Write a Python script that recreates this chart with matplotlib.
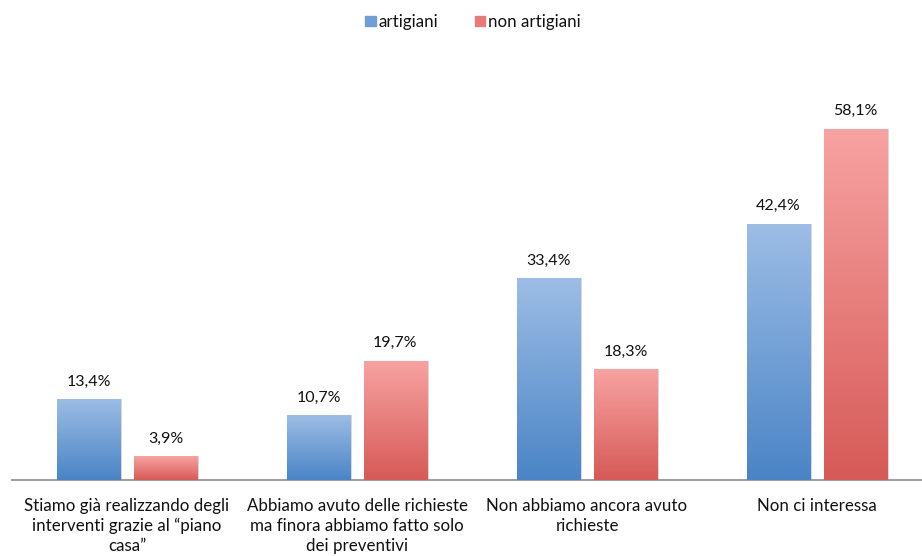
import numpy as np
import matplotlib.pyplot as plt
from matplotlib.patches import Patch
from matplotlib.colors import LinearSegmentedColormap

plt.rcParams['font.family'] = ['Lato', 'DejaVu Sans']

categorie = ['Stiamo già realizzando degli\ninterventi grazie al \u201cpiano\ncasa\u201d',
             'Abbiamo avuto delle richieste\nma finora abbiamo fatto solo\ndei preventivi',
             'Non abbiamo ancora avuto\nrichieste',
             'Non ci interessa']
artigiani = [13.4, 10.7, 33.4, 42.4]
non_artigiani = [3.9, 19.7, 18.3, 58.1]

blu = LinearSegmentedColormap.from_list('blu', ['#4a84c6', '#9dbde5'])
rosso = LinearSegmentedColormap.from_list('rosso', ['#d65a57', '#f7a3a2'])

fig = plt.figure(figsize=(9.22, 5.56), dpi=100)
ax = fig.add_axes([12 / 922, 76 / 556, 920 / 922, 393 / 556])

x = np.arange(len(categorie))
w = 0.274
off = 0.167
grad = np.linspace(0, 1, 256).reshape(-1, 1)

def barre(pos, vals, cmap):
    bars = ax.bar(pos, vals, w, color=cmap(0.5), zorder=2)
    for b in bars:
        x0, h = b.get_x(), b.get_height()
        # ombra leggera a destra
        ax.bar(x0 + w / 2 + 0.008, h, w, color='#d8d8d8', zorder=1)
        im = ax.imshow(grad, cmap=cmap, aspect='auto', origin='lower',
                       extent=[x0, x0 + w, 0, h], zorder=3)
        im.set_clip_path(b)
        ax.text(x0 + w / 2, h + 2.9, f'{h:.1f}%'.replace('.', ','),
                ha='center', va='center', fontsize=11.5, color='#111111')

barre(x - off, artigiani, blu)
barre(x + off, non_artigiani, rosso)

ax.set_xlim(-0.5, 3.5)
ax.set_ylim(0, 65)
for s in ['top', 'right', 'left']:
    ax.spines[s].set_visible(False)
ax.spines['bottom'].set_color('#a0a0a0')
ax.spines['bottom'].set_linewidth(1.5)
ax.set_yticks([])
ax.set_xticks(x)
ax.set_xticklabels(categorie, fontsize=12.2, color='#111111', linespacing=1.3)
ax.tick_params(axis='x', length=0, pad=13)

handles = [Patch(color='#6f9fd6', label='artigiani'),
           Patch(color='#e77b7a', label='non artigiani')]
fig.legend(handles=handles, loc='center', bbox_to_anchor=(0.513, 1 - 22 / 556),
           ncol=2, frameon=False, fontsize=12.2, handlelength=0.6,
           handleheight=0.6, handletextpad=0.15, columnspacing=2.2,
           labelcolor='#111111')

fig.savefig('out.png', dpi=100)
